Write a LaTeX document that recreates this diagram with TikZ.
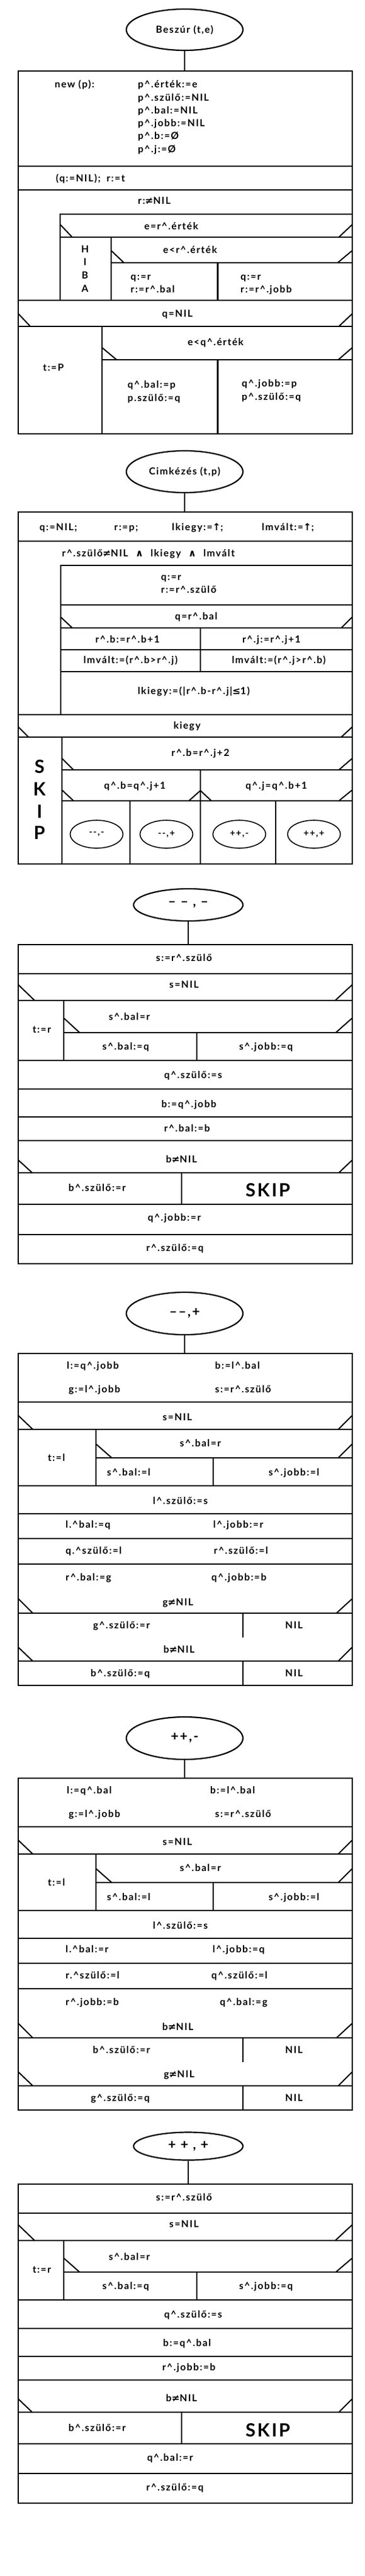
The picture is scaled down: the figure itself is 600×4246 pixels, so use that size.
\documentclass[tikz,border=0pt]{standalone}
\usepackage{fontspec}
\setmainfont{Lato}[LetterSpace=10]
\newfontfamily\symf{DejaVu Sans}
\usetikzlibrary{shapes.geometric}
\newcommand\Ht{\textasciicircum}
\newcommand\Neq{{\symf ≠}}
\newcommand\Andd{{\symf ∧}}
\newcommand\Upa{{\symf ↑}}
\newcommand\Lee{{\symf ≤}}
\newcommand\Hl[3]{\draw[box] (#2,#1) -- (#3,#1);}
\newcommand\Vl[3]{\draw[box] (#1,#2) -- (#1,#3);}
\newcommand\Cnd[6]{\draw[box] (#1,#4) -- (#2,#4); \draw[dg] (#1,#3) -- (#5,#4); \draw[dg] (#2,#3) -- (#6,#4);}
\newcommand\Tc[4]{\node[txt] (#1) at (#2,#3) {#4};}
\newcommand\Tw[4]{\node[txt,anchor=west] (#1) at (#2,#3) {#4};}
\tikzset{
  box/.style={line width=2.8pt, line cap=rect},
  dg/.style={line width=2pt},
  con/.style={line width=2.8pt},
  txt/.style={inner sep=0pt, text height=11pt, text depth=3pt, font=\fontsize{16}{21}\selectfont\bfseries},
  big/.style={txt, font=\fontsize{30}{30}\selectfont\bfseries, text height=22pt, text depth=0pt},
  ell/.style={draw, ellipse, line width=2.2pt, inner sep=0pt, font=\fontsize{16}{21}\selectfont\bfseries},
  sell/.style={draw, ellipse, line width=1.6pt, inner sep=0pt, minimum width=87pt, minimum height=46pt, font=\fontsize{15}{16}\selectfont\bfseries},
  bell/.style={ell, font=\fontsize{22}{22}\selectfont\bfseries},
}
\begin{document}
\begin{tikzpicture}[x=1pt,y=-1pt]
\fill[white] (0,0) rectangle (600,4246);
\useasboundingbox (0,0) rectangle (600,4246);

%% ---------------- Beszur ----------------
\node[ell,minimum width=192pt,minimum height=68pt] (e1) at (304,49) {Beszúr (t,e)};
\coordinate (b1) at (304,117);
\draw[con] (e1.south) -- (b1);
\draw[box] (30,117) rectangle (580,715);
\Hl{274}{30}{580} \Hl{313}{30}{580}
\Hl{353}{99}{580} \Vl{99}{353}{495}
\Cnd{99}{580}{370}{391}{119}{558}
\Vl{183}{391}{495}
\Cnd{183}{580}{413}{433}{204}{556}
\Vl{358.5}{433}{495}
\Hl{495}{30}{580}
\Cnd{30}{580}{517}{538}{50}{558}
\Vl{168}{538}{715}
\Cnd{168}{580}{573}{593}{192}{557}
\Vl{358.5}{593}{715}
\Tw{a1}{90}{140}{new (p):}
\Tw{a2}{227}{140}{p\Ht.érték:=e}
\Tw{a3}{227}{162}{p\Ht.szülő:=NIL}
\Tw{a4}{227}{183}{p\Ht.bal:=NIL}
\Tw{a5}{227}{204}{p\Ht.jobb:=NIL}
\Tw{a6}{227}{225}{p\Ht.b:=Ø}
\Tw{a7}{227}{247}{p\Ht.j:=Ø}
\Tw{a8}{92}{295}{(q:=NIL);\hspace{10pt}r:=t}
\Tw{a9}{227}{332}{r:\Neq{}NIL}
\Tc{a10}{282}{374}{e=r\Ht.érték}
\Tc{a11}{140}{412}{H}
\Tc{a12}{140}{433}{I}
\Tc{a13}{140}{455}{B}
\Tc{a14}{140}{477}{A}
\Tc{a15}{313}{413}{e<r\Ht.érték}
\Tw{a16}{215}{457}{q:=r}
\Tw{a17}{215}{478}{r:=r\Ht.bal}
\Tw{a18}{396}{457}{q:=r}
\Tw{a19}{396}{478}{r:=r\Ht.jobb}
\Tc{a20}{292}{518}{q=NIL}
\Tc{a21}{88}{607}{t:=P}
\Tc{a22}{355}{565}{e<q\Ht.érték}
\Tw{a23}{210}{635}{q\Ht.bal:=p}
\Tw{a24}{210}{657}{p.szülő:=q}
\Tw{a25}{398}{633}{q\Ht.jobb:=p}
\Tw{a26}{398}{655}{p\Ht.szülő:=q}

%% ---------------- Cimkezes ----------------
\node[ell,minimum width=192pt,minimum height=69pt] (e2) at (304,777.5) {Cimkézés (t,p)};
\coordinate (b2) at (304,844);
\draw[con] (e2.south) -- (b2);
\draw[box] (30,844) rectangle (580,1424);
\Hl{892}{30}{580}
\Hl{932}{100}{580} \Vl{100}{932}{1178}
\Hl{997}{100}{580}
\Cnd{100}{580}{1017}{1035}{119}{562}
\Vl{330}{1035}{1107}
\Hl{1071}{100}{580} \Hl{1107}{100}{580}
\Hl{1178}{30}{580}
\Cnd{30}{580}{1198}{1215}{47}{562}
\Vl{102}{1215}{1424}
\Cnd{102}{580}{1250}{1269}{121}{558}
\Vl{330}{1269}{1424}
\Hl{1320}{102}{580}
\draw[dg] (102,1302) -- (121,1320);
\draw[dg] (330,1303) -- (311,1320);
\draw[dg] (330,1303) -- (348,1320);
\draw[dg] (580,1302) -- (558,1320);
\Vl{214}{1320}{1424} \Vl{454}{1320}{1424}
\Tw{c1}{65}{870}{q:=NIL;}
\Tw{c2}{188}{870}{r:=p;}
\Tw{c3}{283}{870}{lkiegy:=\Upa;}
\Tw{c4}{431}{870}{lmvált:=\Upa;}
\Tw{c5}{102}{913}{r\Ht.szülő\Neq{}NIL\hspace{12pt}\Andd\hspace{12pt}lkiegy\hspace{12pt}\Andd\hspace{12pt}lmvált}
\Tw{c6}{265}{952}{q:=r}
\Tw{c7}{265}{973}{r:=r\Ht.szülő}
\Tc{c8}{323}{1017}{q=r\Ht.bal}
\Tc{c9}{210}{1055}{r\Ht.b:=r\Ht.b+1}
\Tc{c10}{447}{1055}{r\Ht.j:=r\Ht.j+1}
\Tc{c11}{215}{1089}{lmvált:=(r\Ht.b>r\Ht.j)}
\Tc{c12}{459}{1089}{lmvált:=(r\Ht.j>r\Ht.b)}
\Tc{c13}{319}{1140}{lkiegy:=(|r\Ht.b-r\Ht.j|\Lee{}1)}
\Tc{c14}{308}{1197}{kiegy}
\node[big] (c15) at (65,1263) {S};
\node[big] (c16) at (65,1300) {K};
\node[big] (c17) at (65,1337) {I};
\node[big] (c18) at (65,1372) {P};
\Tc{c19}{330}{1242}{r\Ht.b=r\Ht.j+2}
\Tc{c20}{222}{1296}{q\Ht.b=q\Ht.j+1}
\Tc{c21}{455}{1296}{q\Ht.j=q\Ht.b+1}
\node[sell] (c22) at (159,1375) {-{}-,-};
\node[sell] (c23) at (274,1375) {-{}-,+};
\node[sell] (c24) at (394,1375) {++,-};
\node[sell] (c25) at (517,1375) {++,+};

%% ---------------- --,- ----------------
\node[bell,minimum width=180pt,minimum height=53pt] (e3) at (310,1491.5) {– – , –};
\coordinate (b3) at (310,1557);
\draw[con] (e3.south) -- (b3);
\draw[box] (30,1557) rectangle (580,2083);
\Hl{1605}{30}{580}
\Cnd{30}{580}{1623}{1649}{57}{552}
\Vl{105}{1649}{1748}
\Cnd{105}{580}{1678}{1702}{131}{553}
\Vl{324}{1702}{1748}
\Hl{1748}{30}{580} \Hl{1795}{30}{580} \Hl{1841}{30}{580} \Hl{1880}{30}{580}
\Cnd{30}{580}{1912}{1933}{53}{558}
\Vl{299}{1933}{1985}
\Hl{1985}{30}{580} \Hl{2035}{30}{580}
\Tc{d1}{303}{1580}{s:=r\Ht.szülő}
\Tc{d2}{303}{1624}{s=NIL}
\Tc{d3}{69}{1698}{t:=r}
\Tc{d4}{213}{1677}{s\Ht.bal=r}
\Tc{d5}{207}{1726}{s\Ht.bal:=q}
\Tc{d6}{438}{1726}{s\Ht.jobb:=q}
\Tc{d7}{318}{1773}{q\Ht.szülő:=s}
\Tc{d8}{311}{1821}{b:=q\Ht.jobb}
\Tc{d9}{308}{1861}{r\Ht.bal:=b}
\Tc{d10}{299}{1912}{b\Neq{}NIL}
\Tc{d11}{160}{1959}{b\Ht.szülő:=r}
\node[big] (d12) at (441,1961) {SKIP};
\Tc{d13}{287}{2008}{q\Ht.jobb:=r}
\Tc{d14}{288}{2058}{r\Ht.szülő:=q}

%% ---------------- --,+ ----------------
\node[bell,minimum width=192pt,minimum height=70pt] (e4) at (304,2165) {––,+};
\coordinate (b4) at (304,2231);
\draw[con] (e4.south) -- (b4);
\draw[box] (30,2231) rectangle (580,2778);
\Hl{2311}{30}{580}
\Cnd{30}{580}{2333}{2356}{54}{557}
\Vl{158}{2356}{2449}
\Cnd{158}{580}{2380}{2403}{184}{557}
\Vl{351}{2403}{2449}
\Hl{2449}{30}{580} \Hl{2495}{30}{580} \Hl{2536}{30}{580} \Hl{2578}{30}{580}
\Cnd{30}{580}{2635}{2659}{54}{554}
\Vl{400}{2659}{2698}
\Cnd{30}{580}{2715}{2738}{54}{557}
\Vl{400}{2738}{2778}
\Tw{f1}{110}{2252}{l:=q\Ht.jobb}
\Tw{f2}{354}{2252}{b:=l\Ht.bal}
\Tw{f3}{113}{2291}{g:=l\Ht.jobb}
\Tw{f4}{354}{2291}{s:=r\Ht.szülő}
\Tc{f5}{292}{2337}{s=NIL}
\Tc{f6}{93}{2404}{t:=l}
\Tc{f7}{330}{2380}{s\Ht.bal=r}
\Tw{f8}{176}{2428}{s\Ht.bal:=l}
\Tc{f9}{484}{2428}{s\Ht.jobb:=l}
\Tc{f10}{297}{2475}{l\Ht.szülő:=s}
\Tw{f11}{108}{2514}{l.\Ht bal:=q}
\Tw{f12}{351}{2514}{l\Ht.jobb:=r}
\Tw{f13}{108}{2557}{q.\Ht szülő:=l}
\Tw{f14}{352}{2557}{r\Ht.szülő:=l}
\Tw{f15}{108}{2601}{r\Ht.bal:=g}
\Tw{f16}{348}{2601}{q\Ht.jobb:=b}
\Tc{f17}{293}{2642}{g\Neq{}NIL}
\Tc{f18}{200}{2680}{g\Ht.szülő:=r}
\Tc{f19}{484}{2680}{NIL}
\Tc{f20}{295}{2720}{b\Neq{}NIL}
\Tc{f21}{198}{2759}{b\Ht.szülő:=q}
\Tc{f22}{484}{2759}{NIL}

%% ---------------- ++,- ----------------
\node[bell,minimum width=192pt,minimum height=70pt] (e5) at (304,2865) {++,-};
\coordinate (b5) at (304,2931);
\draw[con] (e5.south) -- (b5);
\draw[box] (30,2931) rectangle (580,3478);
\Hl{3011}{30}{580}
\Cnd{30}{580}{3033}{3056}{54}{557}
\Vl{158}{3056}{3149}
\Cnd{158}{580}{3080}{3103}{184}{557}
\Vl{351}{3103}{3149}
\Hl{3149}{30}{580} \Hl{3195}{30}{580} \Hl{3236}{30}{580} \Hl{3278}{30}{580}
\Cnd{30}{580}{3335}{3359}{54}{554}
\Vl{400}{3359}{3398}
\Cnd{30}{580}{3415}{3438}{54}{557}
\Vl{400}{3438}{3478}
\Tw{g1}{110}{2952}{l:=q\Ht.bal}
\Tw{g2}{346}{2952}{b:=l\Ht.bal}
\Tw{g3}{113}{2991}{g:=l\Ht.jobb}
\Tw{g4}{354}{2991}{s:=r\Ht.szülő}
\Tc{g5}{292}{3037}{s=NIL}
\Tc{g6}{93}{3104}{t:=l}
\Tc{g7}{330}{3080}{s\Ht.bal=r}
\Tw{g8}{176}{3128}{s\Ht.bal:=l}
\Tc{g9}{484}{3128}{s\Ht.jobb:=l}
\Tc{g10}{297}{3175}{l\Ht.szülő:=s}
\Tw{g11}{108}{3214}{l.\Ht bal:=r}
\Tw{g12}{350}{3214}{l\Ht.jobb:=q}
\Tw{g13}{108}{3257}{r.\Ht szülő:=l}
\Tw{g14}{348}{3257}{q\Ht.szülő:=l}
\Tw{g15}{108}{3301}{r\Ht.jobb:=b}
\Tw{g16}{362}{3301}{q\Ht.bal:=g}
\Tc{g17}{293}{3342}{b\Neq{}NIL}
\Tc{g18}{200}{3380}{b\Ht.szülő:=r}
\Tc{g19}{484}{3380}{NIL}
\Tc{g20}{295}{3420}{g\Neq{}NIL}
\Tc{g21}{198}{3459}{g\Ht.szülő:=q}
\Tc{g22}{484}{3459}{NIL}

%% ---------------- ++,+ ----------------
\node[bell,minimum width=180pt,minimum height=46pt] (e6) at (310,3537.5) {+ + , +};
\coordinate (b6) at (310,3600);
\draw[con] (e6.south) -- (b6);
\draw[box] (30,3600) rectangle (580,4126);
\Hl{3648}{30}{580}
\Cnd{30}{580}{3667}{3693}{57}{552}
\Vl{105}{3693}{3791}
\Cnd{105}{580}{3722}{3745}{131}{553}
\Vl{324}{3745}{3791}
\Hl{3791}{30}{580} \Hl{3838}{30}{580} \Hl{3884}{30}{580} \Hl{3923}{30}{580}
\Cnd{30}{580}{3954}{3976}{53}{558}
\Vl{299}{3976}{4028}
\Hl{4028}{30}{580} \Hl{4077}{30}{580}
\Tc{h1}{303}{3623}{s:=r\Ht.szülő}
\Tc{h2}{303}{3667}{s=NIL}
\Tc{h3}{69}{3742}{t:=r}
\Tc{h4}{213}{3721}{s\Ht.bal=r}
\Tc{h5}{207}{3769}{s\Ht.bal:=q}
\Tc{h6}{438}{3769}{s\Ht.jobb:=q}
\Tc{h7}{318}{3816}{q\Ht.szülő:=s}
\Tc{h8}{308}{3863}{b:=q\Ht.bal}
\Tc{h9}{311}{3903}{r\Ht.jobb:=b}
\Tc{h10}{299}{3954}{b\Neq{}NIL}
\Tc{h11}{160}{4003}{b\Ht.szülő:=r}
\node[big] (h12) at (441,4005) {SKIP};
\Tc{h13}{280}{4052}{q\Ht.bal:=r}
\Tc{h14}{288}{4101}{r\Ht.szülő:=q}
\end{tikzpicture}
\end{document}
